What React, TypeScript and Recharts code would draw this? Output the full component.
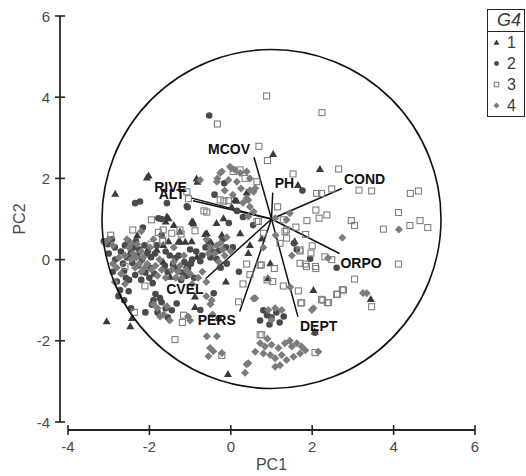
import React from 'react';
import { ScatterChart, Scatter, XAxis, YAxis, ReferenceLine, ReferenceDot, Legend } from 'recharts';

// ---------- data ----------
const X_DOMAIN: [number, number] = [-4, 6];
const Y_DOMAIN: [number, number] = [-4, 6];
const X_TICKS = [-4, -2, 0, 2, 4, 6];
const Y_TICKS = [-4, -2, 0, 2, 4, 6];
const X_TITLE = 'PC1';
const Y_TITLE = 'PC2';
const LEGEND_TITLE = 'G4';
const GROUPS = ['1', '2', '3', '4'];

const ORIGIN = { x: 1, y: 1 };
const CIRCLE_RADIUS = 4.17;

const VECTOR_NAMES = ['MCOV', 'PH', 'COND', 'RIVE', 'ALT', 'CVEL', 'PERS', 'DEPT', 'ORPO'];
const VECTOR_X = [0.57, 1.03, 2.73, -0.98, -0.93, -0.62, 0.22, 1.65, 2.67];
const VECTOR_Y = [2.52, 1.65, 1.75, 1.52, 1.45, -0.47, -1.28, -1.41, 0.15];

const GROUP1_POINTS: [number, number][] = [
  [-2.84, 1.62], [-2.02, 2.07], [-2.06, 2.02], [-1.6, 0.94], [-0.82, 1.92], [-0.84, 2.0], [0.15, 1.45], [0.1, 1.47],
  [0.39, 1.65], [1.04, 2.6], [2.19, 2.23], [1.65, 1.84], [-1.57, 1.06], [-1.53, 1.02], [-0.93, 0.94], [-0.96, 0.93],
  [-0.92, 0.89], [-0.18, 1.02], [-1.53, 0.45], [-1.25, 0.45], [-0.96, 0.45], [-1.12, 0.44], [-1.29, 0.44], [-1.66, 0.36],
  [-1.25, 0.69], [-0.63, 0.63], [-0.59, 0.65], [-0.22, 0.61], [0.23, 0.65], [0.47, 0.36], [0.76, 0.52], [-0.47, 0.4],
  [-2.04, 0.25], [-1.82, 0.24], [-1.66, -0.05], [-1.49, -0.42], [-1.1, -0.38], [-1.08, -0.13], [-0.83, 0.07], [-0.28, -0.17],
  [-0.12, -0.54], [-0.88, -0.91], [-0.88, -1.17], [-3.05, -1.52], [-2.47, -1.64], [-2.43, -1.44], [-0.07, -2.82], [0.97, -0.09],
  [0.91, -0.46], [0.43, 0.16], [1.57, 0.45], [2.03, -0.75], [2.06, -1.77], [3.44, -0.97], [0.02, 1.3], [-2.3, 0.6],
  [-1.4, 0.85], [-0.35, 0.9],
];

const GROUP2_POINTS: [number, number][] = [
  [-0.53, 3.55], [-2.35, 1.39], [-2.23, 1.43], [-1.57, 1.39], [-1.06, 1.29], [-1.08, 1.31], [-0.16, 1.88], [-1.71, 1.0],
  [-1.78, 1.02], [-2.16, 0.79], [-0.4, 1.6], [1.76, 1.7],
  [-3.12, 0.45], [-3.02, 0.38], [-2.92, 0.5], [-2.84, 0.0], [-2.8, -0.54], [-2.72, -0.75], [-2.9, -0.3], [-2.6, 0.35],
  [-2.52, 0.45], [-2.45, 0.22], [-2.38, 0.3], [-2.3, 0.1], [-2.55, 0.05], [-2.42, -0.08], [-2.28, -0.15], [-2.18, 0.0],
  [-2.12, 0.35], [-2.1, -0.32], [-2.0, -0.45], [-2.35, -0.38], [-2.5, -0.5], [-2.62, -0.28], [-1.92, -0.58], [-1.86, 0.15],
  [-1.96, 0.06], [-1.7, 0.6], [-1.6, 0.2], [-1.5, 0.1], [-1.42, -0.12], [-1.32, -0.22], [-1.2, -0.32], [-1.36, 0.04],
  [-1.14, -0.06], [-1.05, -0.22], [-1.0, 0.25], [-0.9, -0.45], [-0.75, -0.04], [-0.62, 0.3], [-0.5, 0.05], [-0.42, -0.83],
  [-0.3, 0.22], [-0.2, 0.5], [-0.1, -0.1], [0.05, 0.3], [-0.85, 0.2], [-0.7, 0.1],
  [-2.7, 0.2], [-2.65, -0.1], [-2.58, -0.45], [-2.47, 0.12], [-2.33, 0.45], [-2.25, 0.25], [-2.2, -0.5], [-2.05, 0.15],
  [-1.98, -0.2], [-1.88, -0.35], [-1.82, 0.35], [-1.62, -0.15], [-1.55, -0.3], [-1.28, 0.1], [-1.22, -0.5], [-1.1, -0.4],
  [-0.98, -0.1], [-0.95, 0.0], [-0.55, 0.45], [-0.45, 0.2], [-0.35, 0.02], [-0.25, -0.2], [-0.12, 0.3], [-2.85, 0.3],
  [-3.0, 0.15], [-2.76, -0.9], [-2.62, -1.0], [-1.85, -0.85], [-1.7, -1.05], [-1.45, -1.25],
  [-1.94, -1.11], [-1.9, -1.0], [-1.8, -1.3], [-1.74, -0.95], [-1.6, -1.2], [-1.55, -1.42], [-2.51, -0.78], [-0.75, -1.24],
  [-2.45, -1.2], [-1.33, -1.08], [-2.1, -1.3],
  [0.89, -1.37], [0.8, -1.25], [1.0, -1.42], [1.12, -1.3], [1.2, -1.55], [0.95, -1.6], [1.3, -1.4], [0.72, -1.5],
  [0.3, 1.05], [0.55, 0.85], [0.15, 1.2], [1.55, 0.4], [1.62, 0.25], [1.95, 0.02], [2.6, -0.2], [-0.3, -1.45],
  [0.2, -0.3], [-0.05, 0.9], [2.07, -1.8],
];

const GROUP3_POINTS: [number, number][] = [
  [0.88, 4.03], [2.24, 3.62], [-0.33, 3.34], [0.69, 2.79], [0.9, 2.44], [2.65, 2.23], [1.53, 2.11], [0.06, 2.17],
  [0.23, 2.21], [0.35, 2.0], [0.64, 1.92], [2.11, 1.63], [2.23, 1.63], [2.48, 1.74], [3.15, 1.71], [3.46, 1.69],
  [4.41, 1.63], [4.61, 1.69], [4.12, 1.16], [2.09, 1.22], [1.87, 0.96], [2.17, 1.02], [2.36, 1.1], [2.96, 0.96],
  [3.04, 0.84], [3.75, 0.75], [4.4, 0.84], [4.65, 0.96], [4.84, 0.79], [1.84, 0.62], [2.0, 0.34], [4.12, -0.11],
  [3.04, -0.48], [2.77, -0.75], [2.6, -0.86], [2.26, -1.0], [2.4, -1.06], [3.46, -1.16], [1.72, -1.07], [2.08, -0.17],
  [1.86, -0.17], [1.7, -0.09], [2.48, 0.0], [1.7, 0.24], [-1.08, 1.67], [-1.04, 1.5], [-0.59, 1.17], [-0.66, 1.2],
  [-0.26, 1.47], [-0.17, 1.44], [-0.06, 1.45], [-1.95, 0.98], [-2.41, 0.73], [-1.66, 0.73], [-1.45, 0.65], [-1.25, 0.73],
  [0.68, 0.94], [1.29, 0.98], [1.37, 0.73], [-1.78, 0.67], [-1.67, 0.48], [-1.96, 0.38], [-1.68, 0.45], [-1.22, 0.63],
  [-0.88, 0.71], [-2.6, -0.17], [-2.11, -0.65], [-2.37, -1.3], [-1.19, -1.55], [-1.16, -1.37], [-1.37, -1.97], [-0.22, -2.36],
  [0.19, -1.04], [0.72, -1.85], [0.47, -0.37], [0.39, -0.11], [0.72, -0.14], [1.6, 0.8], [0.64, 0.94], [1.33, 0.69],
  [0.8, 0.65], [1.37, 0.53], [1.21, 0.4], [1.7, 0.21], [1.97, 0.16], [2.31, 0.07], [1.83, -0.11], [2.09, -0.22],
  [1.07, -0.22], [0.75, -0.13], [1.03, -0.54], [0.89, -0.5], [1.29, -0.65], [1.66, -0.77], [1.74, -1.06], [2.23, -0.98],
  [2.37, -1.06], [2.62, -0.85], [2.74, -0.74], [0.76, -1.85], [2.07, -2.29], [-2.95, 0.6], [1.15, 1.3], [0.3, -0.6],
];

const GROUP4_POINTS: [number, number][] = [
  [-0.33, 2.0], [-0.22, 2.17], [0.02, 2.25], [-0.06, 1.96], [0.15, 1.92], [0.23, 2.13], [0.39, 2.17], [0.47, 1.71],
  [0.39, 1.51], [0.47, 1.3], [-0.75, 1.96], [0.6, 1.76], [0.56, 1.18], [0.43, 1.06], [-0.02, 2.29], [0.1, 2.21],
  [-0.34, 1.92], [-0.26, 2.13], [0.43, 1.47], [0.56, 1.67], [0.47, 2.0], [1.09, 1.02], [1.45, 1.14], [1.37, 0.98],
  [0.05, 1.6], [0.25, 1.75], [-0.15, 1.7], [0.3, 1.4],
  [-3.1, 0.4], [-3.0, 0.5], [-2.9, 0.35], [-2.5, 0.3], [-2.4, 0.15], [-2.3, 0.38], [-2.2, 0.2], [-2.15, 0.05],
  [-2.45, 0.0], [-2.35, -0.2], [-2.2, -0.3], [-2.05, -0.1], [-1.95, -0.25], [-1.8, -0.4], [-1.75, 0.0], [-2.6, 0.1],
  [-2.7, -0.35], [-2.8, -0.2], [-2.6, -0.6], [-1.4, -0.05], [-1.3, -0.3], [-1.2, -0.45], [-1.0, -0.35], [-1.15, 0.1],
  [-1.45, -0.25], [-0.6, 0.5], [-0.5, 0.3], [-0.4, 0.15], [-0.25, 0.4], [-0.15, 0.1], [-0.1, 0.55], [0.0, 0.2],
  [-0.7, -0.3], [-0.8, -0.45], [-0.6, -0.55], [-1.9, -1.1], [-1.8, -1.2], [-1.65, -1.35], [-1.5, -1.5], [-1.74, -1.4],
  [-1.57, -1.15], [-1.05, -1.4], [-1.0, -1.5], [-0.6, -0.9], [-0.5, -1.1], [-0.45, -1.35], [-0.47, -1.0], [-2.2, 0.7],
  [-1.9, 0.5], [-1.4, 0.3],
  [-2.55, 0.5], [-2.45, 0.4], [-2.32, 0.05], [-2.25, -0.1], [-2.12, -0.2], [-1.98, 0.3], [-1.85, -0.15], [-1.7, -0.25],
  [-1.6, -0.45], [-1.35, -0.45], [-1.25, -0.15], [-1.1, -0.25], [-0.95, -0.6], [-0.55, 0.15], [-0.35, 0.35], [-0.2, 0.25],
  [-0.3, -0.05], [-2.75, 0.05], [-2.9, -0.1], [-2.85, -0.55],
  [-0.59, -1.89], [-0.34, -1.89], [-0.43, -2.26], [-0.55, -2.38], [-0.22, -2.3], [-0.51, -2.18], [0.39, -2.58], [0.35, -2.79],
  [0.56, -0.96], [0.6, -0.95],
  [0.72, -2.06], [0.84, -2.14], [1.0, -2.1], [1.17, -2.18], [1.33, -2.06], [1.5, -2.14], [1.62, -2.06], [1.74, -2.14],
  [0.8, -2.31], [0.97, -2.35], [1.09, -2.43], [1.25, -2.35], [1.37, -2.47], [1.54, -2.39], [1.7, -2.31], [1.21, -2.6],
  [1.09, -2.64], [1.83, -2.23], [0.6, -2.27], [0.43, -2.55], [2.15, -2.27], [1.45, -2.0], [0.9, -1.95],
  [0.92, -1.24], [1.09, -1.2], [1.25, -1.24], [1.0, -1.49], [1.46, -0.68], [2.03, -1.2], [3.25, -0.82], [3.34, -0.83],
  [2.39, 0.04], [4.13, 0.74], [2.74, 0.54], [1.99, -1.24], [0.8, 0.3], [1.1, 0.6], [1.5, 0.1],
];

// ---------- layout & style ----------
const CHART_W = 526;
const CHART_H = 476;
const MARGIN = { top: 16, right: 51, bottom: 0, left: 0 };
const Y_AXIS_W = 68;
const X_AXIS_H = 54;
const PLOT_W = CHART_W - MARGIN.left - MARGIN.right - Y_AXIS_W;
const PLOT_H = CHART_H - MARGIN.top - MARGIN.bottom - X_AXIS_H;
const PX_X = PLOT_W / (X_DOMAIN[1] - X_DOMAIN[0]);
const PX_Y = PLOT_H / (Y_DOMAIN[1] - Y_DOMAIN[0]);
const AXIS_GAP = 8;
const FONT = '"Liberation Sans", Arial, sans-serif';
const AXIS_COLOR = '#262626';
const TICK_TEXT = '#4a4a4a';
const INK = '#111111';

const LABEL_STYLE: Record<string, { dx: number; dy: number; anchor: 'start' | 'end' }> = {
  MCOV: { dx: -4, dy: -8, anchor: 'end' },
  PH: { dx: 2, dy: -10, anchor: 'start' },
  COND: { dx: 2, dy: -10, anchor: 'start' },
  RIVE: { dx: -4, dy: -11, anchor: 'end' },
  ALT: { dx: -8, dy: -7, anchor: 'end' },
  CVEL: { dx: -2, dy: 10, anchor: 'end' },
  PERS: { dx: -4, dy: 8, anchor: 'end' },
  DEPT: { dx: 2, dy: 9, anchor: 'start' },
  ORPO: { dx: 1, dy: 9, anchor: 'start' },
};

const toPts = (arr: [number, number][]) => arr.map(([x, y]) => ({ x, y }));
const vectorData = VECTOR_NAMES.map((name, i) => ({ name, x: VECTOR_X[i], y: VECTOR_Y[i] }));

// ---------- marker shapes ----------
const drawMarker = (i: number, cx: number, cy: number, s = 1) => {
  if (i === 0) {
    const h = 4 * s;
    return <path d={`M${cx},${cy - h}L${cx + h},${cy + h * 0.75}L${cx - h},${cy + h * 0.75}Z`} fill="#3a3a3a" />;
  }
  if (i === 1) return <circle cx={cx} cy={cy} r={3.3 * s} fill="#4a4a4a" />;
  if (i === 2) {
    const h = 3 * s;
    return <rect x={cx - h} y={cy - h} width={2 * h} height={2 * h} fill="none" stroke="#808080" strokeWidth={1.1} />;
  }
  const h = 4 * s;
  return <path d={`M${cx},${cy - h}L${cx + h},${cy}L${cx},${cy + h}L${cx - h},${cy}Z`} fill="#7c7c7c" />;
};

const makeShape = (i: number) => (props: any) => {
  const { cx, cy } = props;
  if (cx == null || cy == null) return <g />;
  return drawMarker(i, cx, cy);
};

const VectorLabel = (props: any) => {
  const { cx, cy } = props;
  const name = props.payload?.name ?? props.name;
  const st = LABEL_STYLE[name] || { dx: 0, dy: 0, anchor: 'start' };
  if (cx == null || cy == null) return <g />;
  return (
    <text x={cx + st.dx} y={cy + st.dy} textAnchor={st.anchor} dominantBaseline="central"
      fontFamily={FONT} fontSize={14} fontWeight="bold" fill={INK}>{name}</text>
  );
};

// ---------- axis ticks ----------
const XTick = (props: any) => {
  const { x, y, payload } = props;
  const ay = y + AXIS_GAP;
  return (
    <g>
      <line x1={x} x2={x} y1={ay - 5} y2={ay + 5} stroke={AXIS_COLOR} strokeWidth={1.6} />
      <text x={x} y={y + 24} textAnchor="middle" dominantBaseline="central" fontFamily={FONT} fontSize={15} fill={TICK_TEXT}>
        {String(payload.value)}
      </text>
    </g>
  );
};

const YTick = (props: any) => {
  const { x, y, payload } = props;
  const ax = x - AXIS_GAP;
  return (
    <g>
      <line x1={ax - 5} x2={ax + 5} y1={y} y2={y} stroke={AXIS_COLOR} strokeWidth={1.6} />
      <text x={x - 18} y={y} textAnchor="end" dominantBaseline="central" fontFamily={FONT} fontSize={15} fill={TICK_TEXT}>
        {String(payload.value)}
      </text>
    </g>
  );
};

// ---------- legend ----------
const LegendBox = () => (
  <div style={{ width: 38, boxSizing: 'border-box', border: `1.5px solid ${AXIS_COLOR}`, background: '#fff', fontFamily: FONT, color: '#3a3a3a' }}>
    <div style={{ height: 20.5, lineHeight: '21px', borderBottom: `1.5px solid ${AXIS_COLOR}`, fontStyle: 'italic', fontSize: 18, paddingLeft: 9 }}>
      {LEGEND_TITLE}
    </div>
    {GROUPS.map((g, i) => (
      <div key={g} style={{ height: 21, display: 'flex', alignItems: 'center' }}>
        <svg width={19} height={21} style={{ display: 'block' }}>{drawMarker(i, 8.5, 10.5, 0.75)}</svg>
        <span style={{ fontSize: 16, lineHeight: '21px' }}>{g}</span>
      </div>
    ))}
  </div>
);

export default function App() {
  const yLineX = X_DOMAIN[0] - AXIS_GAP / PX_X;
  const xLineY = Y_DOMAIN[0] - AXIS_GAP / PX_Y;
  const circleR = CIRCLE_RADIUS * (PX_X + PX_Y) / 2;
  const groups = [GROUP1_POINTS, GROUP2_POINTS, GROUP3_POINTS, GROUP4_POINTS];
  return (
    <div style={{ position: 'absolute', left: 0, top: 0, background: '#fff' }}>
      <ScatterChart width={CHART_W} height={CHART_H} margin={MARGIN}>
        <XAxis type="number" dataKey="x" domain={X_DOMAIN} ticks={X_TICKS} allowDataOverflow
          axisLine={false} tickLine={false} tickSize={0} tickMargin={0} height={X_AXIS_H} tick={<XTick />} interval={0}
          label={{ value: X_TITLE, position: 'insideBottom', offset: 6, fontFamily: FONT, fontSize: 16, fill: TICK_TEXT }} />
        <YAxis type="number" dataKey="y" domain={Y_DOMAIN} ticks={Y_TICKS} allowDataOverflow
          axisLine={false} tickLine={false} tickSize={0} tickMargin={0} width={Y_AXIS_W} tick={<YTick />} interval={0}
          label={{ value: Y_TITLE, angle: -90, position: 'insideLeft', offset: 19, fontFamily: FONT, fontSize: 16, fill: TICK_TEXT, style: { textAnchor: 'middle' } }} />
        <Legend layout="vertical" align="center" verticalAlign="middle" content={() => <LegendBox />}
          wrapperStyle={{ left: 487, top: 9, width: 38, height: 109 }} />
        {groups.map((pts, i) => (
          <Scatter key={GROUPS[i]} name={GROUPS[i]} data={toPts(pts)} shape={makeShape(i)} isAnimationActive={false} />
        ))}
        <ReferenceDot x={ORIGIN.x} y={ORIGIN.y} r={circleR} fill="none" stroke={INK} strokeWidth={1.6} ifOverflow="visible" />
        {vectorData.map((v) => (
          <ReferenceLine key={v.name} segment={[{ x: ORIGIN.x, y: ORIGIN.y }, { x: v.x, y: v.y }]} stroke={INK} strokeWidth={1.5} ifOverflow="visible" />
        ))}
        <Scatter name="vectors" data={vectorData} shape={VectorLabel} isAnimationActive={false} legendType="none" />
        <ReferenceLine segment={[{ x: yLineX, y: Y_DOMAIN[0] }, { x: yLineX, y: Y_DOMAIN[1] }]} stroke={AXIS_COLOR} strokeWidth={1.8} ifOverflow="visible" />
        <ReferenceLine segment={[{ x: X_DOMAIN[0], y: xLineY }, { x: X_DOMAIN[1], y: xLineY }]} stroke={AXIS_COLOR} strokeWidth={1.8} ifOverflow="visible" />
      </ScatterChart>
    </div>
  );
}
